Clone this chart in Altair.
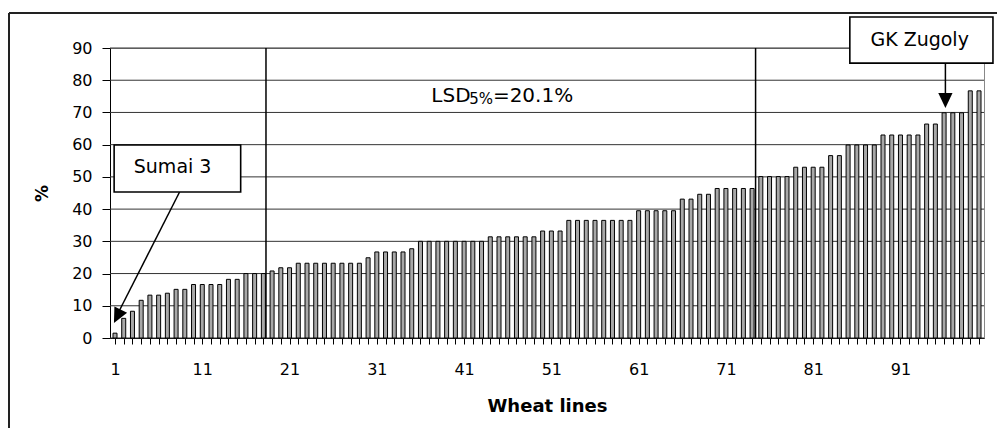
import altair as alt
import pandas as pd

FONT = "DejaVu Sans"
W, H = 874, 290

# ---- data -------------------------------------------------------------
lines = list(range(1, 101))
values = [1.5, 6.1, 8.3, 11.7, 13.3, 13.3, 13.9, 15.1, 15.1, 16.6,
          16.6, 16.6, 16.6, 18.2, 18.2, 20.0, 20.0, 20.0, 20.8, 21.8,
          21.8, 23.2, 23.2, 23.2, 23.2, 23.2, 23.2, 23.2, 23.2, 24.9,
          26.7, 26.7, 26.7, 26.7, 27.7, 30.0, 30.0, 30.0, 30.0, 30.0,
          30.0, 30.0, 30.0, 31.4, 31.4, 31.4, 31.4, 31.4, 31.4, 33.2,
          33.2, 33.2, 36.5, 36.5, 36.5, 36.5, 36.5, 36.5, 36.5, 36.5,
          39.5, 39.5, 39.5, 39.5, 39.5, 43.1, 43.1, 44.6, 44.6, 46.4,
          46.4, 46.4, 46.4, 46.4, 50.1, 50.1, 50.1, 50.1, 53.0, 53.0,
          53.0, 53.0, 56.6, 56.6, 59.9, 59.9, 59.9, 59.9, 63.0, 63.0,
          63.0, 63.0, 63.0, 66.4, 66.4, 69.9, 69.9, 69.9, 76.7, 76.7]
y_ticks = [0, 10, 20, 30, 40, 50, 60, 70, 80, 90]

lsd_x = [18.3, 74.4]

box_labels = ["Sumai 3", "GK Zugoly"]
box_x = [0.9, 85.2]
box_x2 = [15.4, 101.6]
box_y = [59.9, 99.6]
box_y2 = [45.3, 85.3]
label_x = [7.6, 93.2]
label_y = [53.1, 92.5]

arrow_x = [8.4, 96.15]
arrow_y = [45.3, 85.3]
arrow_x2 = [1.2, 96.15]
arrow_y2 = [6.9, 73.4]
head_x = [1.27, 96.15]
head_y = [6.73, 73.7]
head_angle = [207, 180]

lsd_parts = ["LSD", "5%", "=20.1%"]
lsd_part_x = [37.25, 41.6, 44.3]
lsd_part_y = [73.25, 72.6, 73.25]
lsd_part_size = [20, 15, 20]

# ---- frames ----------------------------------------------------------
df = pd.DataFrame({"x": lines, "y": values})
df_lsd = pd.DataFrame({"x": lsd_x, "y": [90] * len(lsd_x), "y2": [0] * len(lsd_x)})
df_box = pd.DataFrame({"x": box_x, "x2": box_x2, "y": box_y, "y2": box_y2})
df_lab = pd.DataFrame({"x": label_x, "y": label_y, "t": box_labels})
df_arrow = pd.DataFrame({"x": arrow_x, "y": arrow_y, "x2": arrow_x2, "y2": arrow_y2})
df_head = pd.DataFrame({"x": head_x, "y": head_y, "a": head_angle})
df_lsdt = pd.DataFrame({"x": lsd_part_x, "y": lsd_part_y, "t": lsd_parts, "s": lsd_part_size})
df_grid = pd.DataFrame({"y": y_ticks})

xscale = alt.Scale(domain=[1, 100], nice=False, zero=False)
yscale = alt.Scale(domain=[0, 90], nice=False)

xaxis = alt.Axis(
    values=lines, tickCount=100, format="d",
    labelExpr="(datum.value - 1) % 10 == 0 ? datum.label : ''",
    labelOverlap=False, labelFlush=False,
    tickSize=6, tickColor="black", domainColor="black", domainWidth=1,
    labelFontSize=16, labelColor="black", labelPadding=17, labelFont=FONT,
    grid=False,
    title="Wheat lines", titleFontSize=18, titleFontWeight="bold",
    titleColor="black", titleFont=FONT, titleX=W / 2, titleY=73.5,
    titleBaseline="alphabetic", titleAlign="center",
)
yaxis = alt.Axis(
    values=y_ticks, tickCount=10, format="d",
    labelOverlap=False, labelFlush=False,
    tickSize=8, tickColor="black", domainColor="black", domainWidth=1,
    labelFontSize=16, labelColor="black", labelPadding=10, labelFont=FONT,
    grid=False,
    title="%", titleFontSize=17, titleFontWeight="bold", titleColor="black",
    titleFont=FONT, titleX=-68, titleY=H / 2, titleAngle=270,
    titleBaseline="middle", titleAlign="center",
)


def X(field):
    return alt.X(field, scale=xscale, axis=xaxis)


def Y(field):
    return alt.Y(field, scale=yscale, axis=yaxis)


grid = alt.Chart(df_grid).mark_rule(color="#333333", strokeWidth=1).encode(
    y=Y("y:Q"), x=alt.value(0), x2=alt.value(W)
)

bars = alt.Chart(df).mark_bar(
    size=4, fill="#a8a8a8", stroke="black", strokeWidth=1
).encode(
    x=X("x:Q"),
    y=Y("y:Q"),
    y2=alt.datum(0),
)

lsd_rules = alt.Chart(df_lsd).mark_rule(color="black", strokeWidth=1.5).encode(
    x=X("x:Q"), y=Y("y:Q"), y2="y2:Q"
)

boxes = alt.Chart(df_box).mark_rect(
    fill="white", stroke="black", strokeWidth=1.6
).encode(
    x=X("x:Q"), x2="x2:Q", y=Y("y:Q"), y2="y2:Q",
)

labels = alt.Chart(df_lab).mark_text(
    font=FONT, fontSize=19, color="black", align="center", baseline="middle"
).encode(
    x=X("x:Q"), y=Y("y:Q"), text="t:N"
)

arrows = alt.Chart(df_arrow).mark_rule(color="black", strokeWidth=1.5).encode(
    x=X("x:Q"), x2="x2:Q", y=Y("y:Q"), y2="y2:Q",
)

heads = alt.Chart(df_head).mark_point(
    shape="M0,-1L0.95,1L-0.95,1Z", filled=True, size=225, color="black", opacity=1
).encode(
    x=X("x:Q"), y=Y("y:Q"),
    angle=alt.Angle("a:Q", scale=None),
)

lsd_text = alt.Chart(df_lsdt).mark_text(
    font=FONT, color="black", align="left", baseline="alphabetic"
).encode(
    x=X("x:Q"), y=Y("y:Q"),
    text="t:N", size=alt.Size("s:Q", scale=None),
)

frame_left = alt.Chart(df).mark_rule(color="#222222", strokeWidth=1).encode(
    x=alt.value(-101), y=alt.value(-35), y2=alt.value(H + 90)
)
frame_top = alt.Chart(df).mark_rule(color="#222222", strokeWidth=1).encode(
    x=alt.value(-101), x2=alt.value(W + 13), y=alt.value(-35)
)

chart = alt.layer(
    grid, bars, lsd_rules, arrows, boxes, labels, heads, lsd_text, frame_left, frame_top
).properties(
    width=W, height=H,
    padding={"left": 102, "top": 40, "right": 13, "bottom": 90},
    autosize=alt.AutoSizeParams(type="none"),
    background="white",
).configure(font=FONT).configure_view(stroke="#888888", strokeWidth=1)

chart.save("out.html", embed_options={"renderer": "svg", "actions": False})
